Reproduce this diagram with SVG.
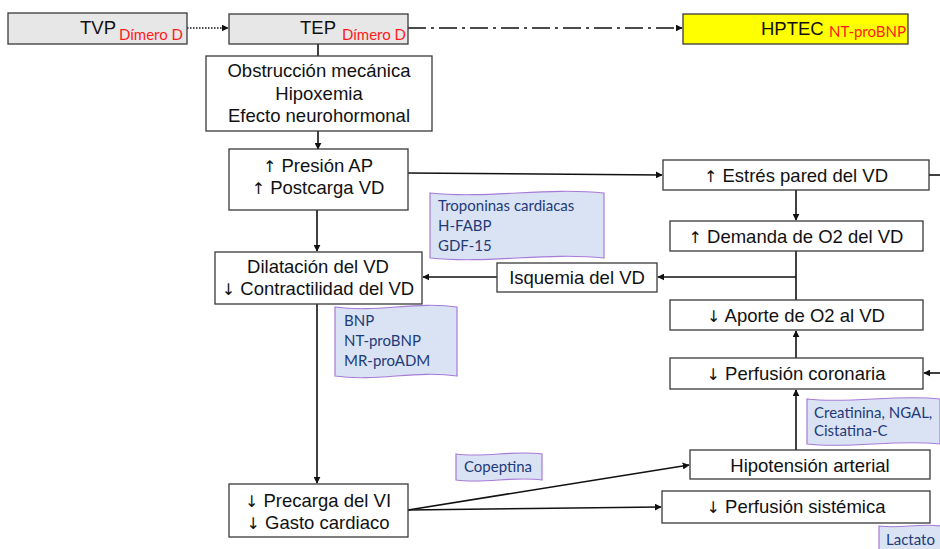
<svg xmlns="http://www.w3.org/2000/svg" width="940" height="549" viewBox="0 0 940 549">
<defs>
<style>
.box{fill:#fff;stroke:#3a3a3a;stroke-width:1.3}
.gray{fill:#e7e7e7}
.yel{fill:#ffff00}
.t{font-family:"Liberation Sans",Arial,sans-serif;font-size:18.5px;fill:#111}
.c{text-anchor:middle}
.ar{font-family:"DejaVu Sans",sans-serif;font-size:16px}
.red{font-family:Lato,"Open Sans",sans-serif;font-size:15px;fill:#ff1a1a}
.bio{fill:#dae3f3;stroke:#a77bd8;stroke-width:1.2}
.bt{font-family:Lato,"Open Sans",sans-serif;font-size:15px;fill:#1f3a78}
.ln{fill:none;stroke:#111;stroke-width:1.6}
</style>
<marker id="ah" viewBox="0 0 10 10" refX="9" refY="5" markerWidth="7" markerHeight="7" markerUnits="userSpaceOnUse" orient="auto">
<path d="M0,0L10,5L0,10z" fill="#111"/>
</marker>
</defs>
<rect width="940" height="549" fill="#fff"/>

<g id="connectors">
<line class="ln" x1="187" y1="28" x2="228" y2="28" stroke-dasharray="1.5 1.5" marker-end="url(#ah)"/>
<line class="ln" x1="408" y1="28" x2="682" y2="28" stroke-dasharray="18 5 3 5" marker-end="url(#ah)"/>
<line class="ln" x1="318" y1="44" x2="318" y2="56"/>
<line class="ln" x1="318" y1="131" x2="318" y2="149" marker-end="url(#ah)"/>
<line class="ln" x1="408" y1="173" x2="662" y2="175" marker-end="url(#ah)"/>
<line class="ln" x1="929" y1="175" x2="940" y2="175"/>
<line class="ln" x1="796" y1="190" x2="796" y2="220" marker-end="url(#ah)"/>
<line class="ln" x1="796" y1="251" x2="796" y2="300"/>
<line class="ln" x1="796" y1="277" x2="658" y2="277" marker-end="url(#ah)"/>
<line class="ln" x1="497" y1="277" x2="423" y2="277" marker-end="url(#ah)"/>
<line class="ln" x1="317" y1="210" x2="317" y2="251" marker-end="url(#ah)"/>
<line class="ln" x1="317" y1="304" x2="317" y2="483" marker-end="url(#ah)"/>
<line class="ln" x1="796" y1="358" x2="796" y2="331" marker-end="url(#ah)"/>
<line class="ln" x1="940" y1="373" x2="924" y2="373" marker-end="url(#ah)"/>
<line class="ln" x1="796" y1="450" x2="796" y2="390" marker-end="url(#ah)"/>
<line class="ln" x1="408" y1="510" x2="689" y2="465" marker-end="url(#ah)"/>
<line class="ln" x1="408" y1="510" x2="661" y2="507" marker-end="url(#ah)"/>
</g>

<g id="tvp">
<rect class="box gray" x="8" y="13" width="179" height="31"/>
<text class="t" x="80" y="34">TVP</text>
<text class="red" x="119" y="40">Dímero D</text>
</g>
<g id="tep">
<rect class="box gray" x="229" y="14" width="179" height="30"/>
<text class="t" x="300" y="34">TEP</text>
<text class="red" x="342" y="40">Dímero D</text>
</g>
<g id="hptec">
<rect class="box yel" x="683" y="14" width="225" height="30"/>
<text class="t" x="761" y="35">HPTEC</text>
<text class="red" x="829" y="37" font-size="14">NT-proBNP</text>
</g>
<g id="obstruccion">
<rect class="box" x="206" y="56" width="226" height="75"/>
<text class="t c" x="319" y="77">Obstrucción mecánica</text>
<text class="t c" x="319" y="100">Hipoxemia</text>
<text class="t c" x="319" y="122">Efecto neurohormonal</text>
</g>
<g id="presion">
<rect class="box" x="229" y="149" width="179" height="61"/>
<text class="t c" x="318" y="172"><tspan class="ar">↑</tspan> Presión AP</text>
<text class="t c" x="318" y="194"><tspan class="ar">↑</tspan> Postcarga VD</text>
</g>
<g id="estres">
<rect class="box" x="663" y="160" width="266" height="30"/>
<text class="t c" x="796" y="182"><tspan class="ar">↑</tspan> Estrés pared del VD</text>
</g>
<g id="demanda">
<rect class="box" x="670" y="221" width="253" height="30"/>
<text class="t c" x="796" y="243"><tspan class="ar">↑</tspan>  Demanda de O2 del VD</text>
</g>
<g id="aporte">
<rect class="box" x="670" y="300" width="253" height="30"/>
<text class="t c" x="796" y="322"><tspan class="ar">↓</tspan> Aporte de O2 al VD</text>
</g>
<g id="perfusion-coronaria">
<rect class="box" x="670" y="358" width="253" height="31"/>
<text class="t c" x="796" y="380"><tspan class="ar">↓</tspan> Perfusión coronaria</text>
</g>
<g id="isquemia">
<rect class="box" x="497" y="263" width="160" height="29"/>
<text class="t c" x="577" y="284">Isquemia del VD</text>
</g>
<g id="dilatacion">
<rect class="box" x="215" y="252" width="207" height="52"/>
<text class="t c" x="318" y="273">Dilatación del VD</text>
<text class="t c" x="318" y="295"><tspan class="ar">↓</tspan> Contractilidad del VD</text>
</g>
<g id="precarga">
<rect class="box" x="229" y="484" width="179" height="53"/>
<text class="t c" x="318" y="507"><tspan class="ar">↓</tspan> Precarga del VI</text>
<text class="t c" x="318" y="529"><tspan class="ar">↓</tspan> Gasto cardiaco</text>
</g>
<g id="hipotension">
<rect class="box" x="690" y="450" width="240" height="29"/>
<text class="t c" x="810" y="472">Hipotensión arterial</text>
</g>
<g id="perfusion-sistemica">
<rect class="box" x="662" y="491" width="268" height="32"/>
<text class="t c" x="796" y="513"><tspan class="ar">↓</tspan> Perfusión sistémica</text>
</g>

<g id="troponinas">
<path class="bio" d="M430,193 C488,199 546,187 604,193 L604,258 C546,252 488,264 430,258 Z"/>
<text class="bt" x="438" y="211">Troponinas cardiacas</text>
<text class="bt" x="438" y="231">H-FABP</text>
<text class="bt" x="438" y="251">GDF-15</text>
</g>
<g id="bnp">
<path class="bio" d="M335,307 C376,313 416,301 457,307 L457,376 C416,370 376,382 335,376 Z"/>
<text class="bt" x="344" y="326">BNP</text>
<text class="bt" x="344" y="346">NT-proBNP</text>
<text class="bt" x="344" y="366">MR-proADM</text>
</g>
<g id="copeptina">
<path class="bio" d="M456,454 C485,458 513,450 542,454 L542,480 C513,476 485,484 456,480 Z"/>
<text class="bt" x="464" y="472">Copeptina</text>
</g>
<g id="creatinina">
<path class="bio" d="M807,399 C851,404 896,394 940,399 L940,444 C896,439 851,449 807,444 Z"/>
<text class="bt" x="814" y="418">Creatinina, NGAL,</text>
<text class="bt" x="814" y="436">Cistatina-C</text>
</g>
<g id="lactato">
<path class="bio" d="M879,526 C900,529 920,523 941,526 L941,550 L879,550 Z"/>
<text class="bt" x="886" y="545">Lactato</text>
</g>
</svg>
